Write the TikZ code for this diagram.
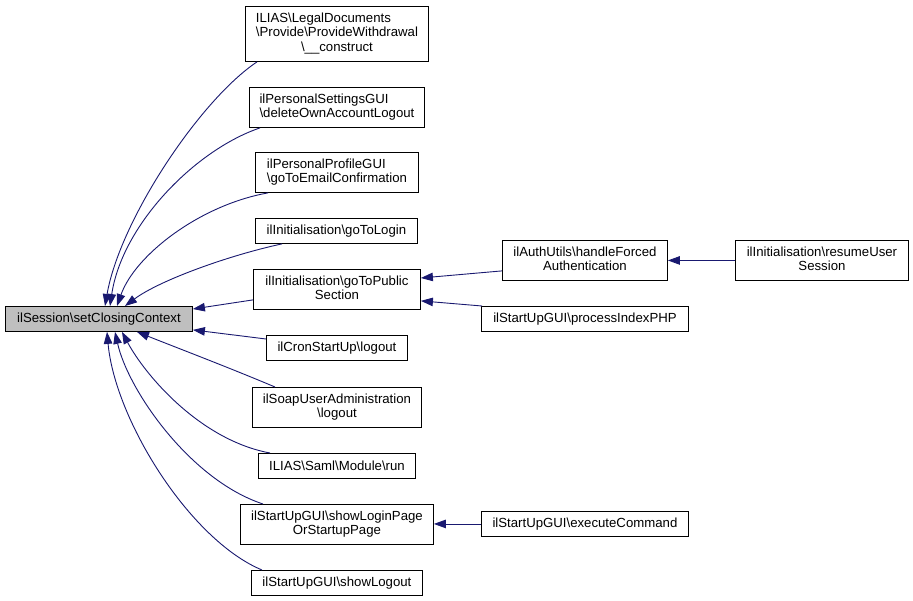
\documentclass[tikz,border=0pt]{standalone}
\usepackage{fontspec}
\setmainfont{Liberation Sans}
\usetikzlibrary{arrows.meta}
\newcommand\BSL{\textbackslash}
\newcommand\mlines[2]{\begin{tabular}{@{}l@{}}#1\\\multicolumn{1}{@{}c@{}}{#2}\end{tabular}}
\definecolor{edgecol}{HTML}{191970}
\definecolor{maingray}{HTML}{BFBFBF}
\tikzset{
  box/.style={draw=black, line width=0.9pt, anchor=north west, inner sep=0pt, fill=white,
    font=\fontsize{13.2}{14.5}\selectfont},
  edge/.style={draw=edgecol, line width=0.9pt, -{Triangle[length=12pt,width=8.5pt]}, fill=none}
}
\begin{document}
\begin{tikzpicture}[x=1pt,y=-1pt]
\useasboundingbox (0,0) rectangle (913,601);
\fill[white] (0,0) rectangle (913,601);
% main node
\node[box, fill=maingray, minimum width=187pt, minimum height=25pt] (main) at (5,306) {ilSession\BSL setClosingContext};
% left column
\node[box, minimum width=183pt, minimum height=55pt] (b1) at (245,6)
  {\begin{tabular}{@{}l@{}}ILIAS\BSL LegalDocuments\\\BSL Provide\BSL ProvideWithdrawal\\\multicolumn{1}{@{}c@{}}{\BSL\_\_construct}\end{tabular}};
\node[box, minimum width=175pt, minimum height=40pt] (b2) at (249,87)
  {\mlines{ilPersonalSettingsGUI}{\BSL deleteOwnAccountLogout}};
\node[box, minimum width=163pt, minimum height=40pt] (b3) at (255,152)
  {\begin{tabular}{@{}l@{}}ilPersonalProfileGUI\\\BSL goToEmailConfirmation\end{tabular}};
\node[box, minimum width=162pt, minimum height=25pt] (b4) at (255,218) {ilInitialisation\BSL goToLogin};
\node[box, minimum width=167pt, minimum height=40pt] (b5) at (253,269)
  {\mlines{ilInitialisation\BSL goToPublic}{Section}};
\node[box, minimum width=141pt, minimum height=25pt] (b6) at (266,335) {ilCronStartUp\BSL logout};
\node[box, minimum width=169pt, minimum height=40pt] (b7) at (252,387)
  {\mlines{ilSoapUserAdministration}{\BSL logout}};
\node[box, minimum width=157pt, minimum height=25pt] (b8) at (258,453) {ILIAS\BSL Saml\BSL Module\BSL run};
\node[box, minimum width=193pt, minimum height=40pt] (b9) at (240,504)
  {\mlines{ilStartUpGUI\BSL showLoginPage}{OrStartupPage}};
\node[box, minimum width=171pt, minimum height=25pt] (b10) at (251,570) {ilStartUpGUI\BSL showLogout};
% right columns
\node[box, minimum width=165pt, minimum height=40pt] (c1) at (502,240)
  {\mlines{ilAuthUtils\BSL handleForced}{Authentication}};
\node[box, minimum width=207pt, minimum height=25pt] (c2) at (481,306) {ilStartUpGUI\BSL processIndexPHP};
\node[box, minimum width=207pt, minimum height=25pt] (c3) at (481,511) {ilStartUpGUI\BSL executeCommand};
\node[box, minimum width=173pt, minimum height=40pt] (d1) at (735,240)
  {\mlines{ilInitialisation\BSL resumeUser}{Session}};
% edges into main (top)
\draw[edge] ([xshift=12pt]b1.south west) .. controls (200,100) and (120,220) .. ([xshift=100pt]main.north west);
\draw[edge] ([xshift=11pt]b2.south west) .. controls (195,150) and (122,225) .. ([xshift=105pt]main.north west);
\draw[edge] ([xshift=13pt]b3.south west) .. controls (200,205) and (135,255) .. ([xshift=112pt]main.north west);
\draw[edge] ([xshift=27pt]b4.south west) .. controls (230,255) and (160,280) .. ([xshift=120pt]main.north west);
% edges into main (right)
\draw[edge] ([yshift=10pt]b5.south west) -- ([yshift=-3pt]main.north east);
\draw[edge] ([yshift=-4pt]b6.north west) -- ([yshift=2pt]main.south east);
% edges into main (bottom)
\draw[edge] ([xshift=23pt]b7.north west) .. controls (230,368) and (175,347) .. ([xshift=132pt]main.south west);
\draw[edge] ([xshift=12pt]b8.north west) .. controls (200,440) and (145,375) .. ([xshift=117pt]main.south west);
\draw[edge] ([xshift=23pt]b9.north west) .. controls (190,480) and (128,390) .. ([xshift=110pt]main.south west);
\draw[edge] ([xshift=11pt]b10.north west) .. controls (190,540) and (115,420) .. ([xshift=102pt]main.south west);
% right side edges
\draw[edge] ([yshift=10pt]c1.south west) -- (b5.east |- 0,278);
\draw[edge] ([xshift=1pt]c2.north west) -- ([yshift=9pt]b5.south east);
\draw[edge] (d1.west) -- (c1.east);
\draw[edge] (c3.west) -- (b9.east |- c3.west);
\end{tikzpicture}
\end{document}
